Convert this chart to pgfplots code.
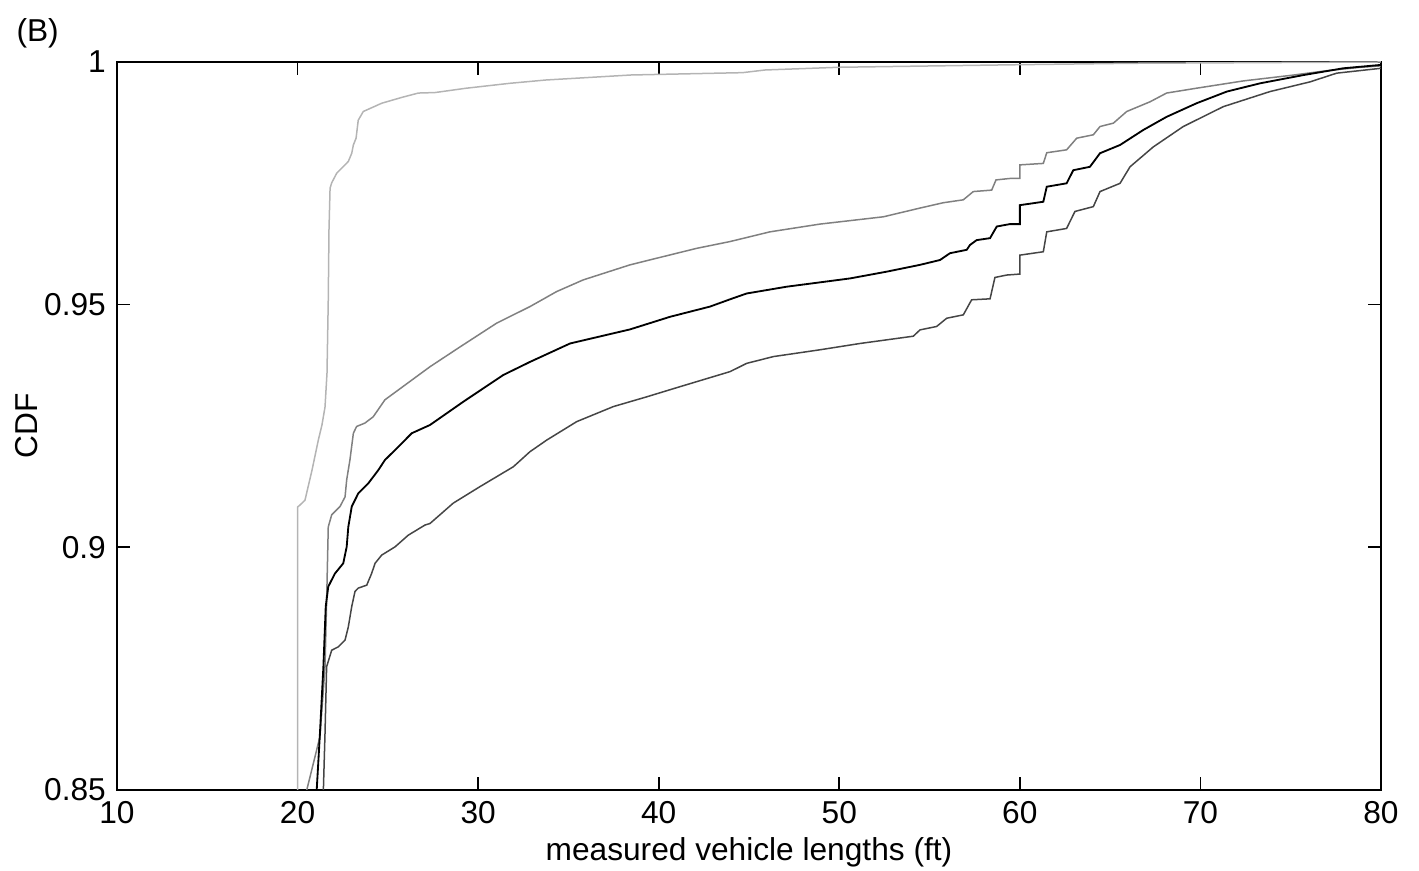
\documentclass[border=0pt]{standalone}
\usepackage{fontspec}
\setmainfont{Liberation Sans}
\usepackage{pgfplots}
\pgfplotsset{compat=1.18}
\definecolor{cLight}{HTML}{B4B4B4}
\definecolor{cMid}{HTML}{808080}
\definecolor{cDark}{HTML}{454545}

\begin{document}
\fontsize{9.5}{11.4}\selectfont
\begin{tikzpicture}
\useasboundingbox (-35.1pt,-24.3pt) rectangle (390.6pt,237pt);
\node[font=\fontsize{9.5}{11.4}\selectfont] at (-23.8pt,227.1pt) {(B)};
\begin{axis}[
  at={(0,0)}, anchor=south west,
  scale only axis, width=379.2pt, height=218.4pt,
  xmin=10, xmax=80, ymin=0.85, ymax=1,
  xtick={10,20,...,80}, ytick={0.85,0.9,0.95,1},
  tick align=inside, major tick length=3.9pt,
  axis line style={line width=0.6pt}, tick style={line width=0.5pt, black},
  /pgf/number format/assume math mode=true,
  /pgf/number format/fixed,
  tick label style={font=\fontsize{9.5}{11.4}\selectfont},
  label style={font=\fontsize{9.5}{11.4}\selectfont},
  xlabel={measured vehicle lengths (ft)}, ylabel={CDF},
  xlabel style={yshift=2.4pt}, ylabel style={yshift=-4.5pt},
  clip=true]
% light gray
\addplot[color=cLight, line width=0.45pt] coordinates {
(20.0,0.85)(20.0,0.9083)(20.13,0.9087)(20.41,0.9097)(20.80,0.9159)(21.15,0.9221)
(21.35,0.9252)(21.52,0.9289)(21.63,0.9359)(21.70,0.9510)(21.74,0.9654)(21.80,0.9740)
(21.89,0.9751)(22.17,0.9771)(22.52,0.9784)(22.81,0.9795)(23.00,0.9812)(23.09,0.9829)
(23.24,0.9843)(23.36,0.9880)(23.64,0.9898)(24.66,0.9915)(25.77,0.9927)(26.69,0.9936)
(27.61,0.9937)(29.31,0.99458)(31.76,0.99561)(33.76,0.99629)(38.47,0.99732)
(44.64,0.99780)(45.89,0.99835)(49.98,0.99891)(59.95,0.99944)(66.10,0.99973)(80,1.0)};
% medium gray
\addplot[color=cMid, line width=0.45pt] coordinates {
(20.51,0.85)(21.24,0.8610)(21.52,0.8754)(21.61,0.8891)(21.70,0.9042)(21.89,0.9067)
(22.35,0.9084)(22.63,0.9104)(22.72,0.9139)(22.90,0.9180)(23.09,0.9235)(23.27,0.9249)
(23.73,0.9256)(24.19,0.9269)(24.84,0.9304)(27.33,0.9372)(29.00,0.9413)(31.03,0.9462)
(32.87,0.9496)(34.35,0.9527)(35.82,0.9551)(38.41,0.9582)(40.25,0.9599)(42.10,0.9616)
(43.95,0.9630)(46.16,0.9650)(48.93,0.9666)(52.44,0.9681)(54.47,0.9699)(55.76,0.9710)
(56.87,0.9716)(57.42,0.9733)(58.44,0.9736)(58.68,0.9757)(59.45,0.9760)(60.0,0.9760)
(60.0,0.9788)(61.30,0.9791)(61.49,0.9813)(62.59,0.9819)(63.15,0.9843)(64.07,0.9850)
(64.44,0.9867)(65.18,0.9874)(65.92,0.9898)(67.21,0.9918)(68.13,0.9936)(69.79,0.9946)
(72.38,0.9961)(75.14,0.9973)(76.99,0.9982)(78.84,0.9989)(80,0.9992)};
% dark gray
\addplot[color=cDark, line width=0.45pt] coordinates {
(21.43,0.85)(21.52,0.8617)(21.61,0.8754)(21.89,0.8788)(22.26,0.8795)(22.63,0.8809)
(22.81,0.8836)(23.00,0.8878)(23.18,0.8909)(23.36,0.8916)(23.83,0.8922)(24.10,0.8946)
(24.29,0.8967)(24.66,0.8984)(25.40,0.9001)(26.13,0.9025)(27.06,0.9046)(27.33,0.9049)
(28.62,0.9091)(30.10,0.9125)(31.95,0.9166)(32.87,0.9197)(33.80,0.9221)(35.46,0.9259)
(37.49,0.9290)(39.33,0.9310)(41.18,0.9331)(43.95,0.9362)(44.87,0.9379)(46.35,0.9393)
(48.93,0.9407)(51.15,0.9420)(54.10,0.9435)(54.47,0.9448)(55.39,0.9455)(55.95,0.9472)
(56.87,0.9479)(57.33,0.9510)(58.35,0.9512)(58.62,0.9556)(59.27,0.9561)(60.0,0.9563)
(60.0,0.9602)(61.30,0.9609)(61.49,0.9650)(62.59,0.9657)(63.05,0.9692)(64.07,0.9702)
(64.44,0.9733)(65.55,0.9750)(66.10,0.9784)(67.39,0.9825)(69.05,0.9867)(71.27,0.9908)
(73.85,0.9939)(76.07,0.9959)(77.55,0.9977)(80,0.9987)};
% black
\addplot[color=black, line width=0.55pt] coordinates {
(21.06,0.85)(21.24,0.8617)(21.43,0.8754)(21.56,0.8878)(21.70,0.8919)(22.07,0.8946)
(22.53,0.8967)(22.72,0.9001)(22.81,0.9042)(23.00,0.9084)(23.36,0.9111)(23.92,0.9132)
(24.47,0.9159)(24.84,0.9180)(25.58,0.9207)(26.32,0.9235)(27.33,0.9252)(29.18,0.9300)
(31.39,0.9355)(32.87,0.9382)(35.09,0.9420)(38.41,0.9449)(40.63,0.9475)(42.84,0.9496)
(43.95,0.9511)(44.87,0.9523)(47.09,0.9537)(50.59,0.9554)(52.63,0.9568)(54.47,0.9582)
(55.58,0.9592)(56.13,0.9606)(57.06,0.9613)(57.24,0.9623)(57.61,0.9633)(58.35,0.9637)
(58.72,0.9661)(59.45,0.9666)(60.0,0.9666)(60.0,0.9705)(61.30,0.9712)(61.49,0.9743)
(62.59,0.9750)(62.96,0.9777)(63.88,0.9784)(64.44,0.9812)(65.55,0.9829)(66.84,0.9860)
(68.13,0.9887)(69.79,0.9915)(71.46,0.9939)(73.30,0.9956)(75.70,0.9973)(77.91,0.9987)
(80,0.9994)};
\end{axis}
\end{tikzpicture}
\end{document}
